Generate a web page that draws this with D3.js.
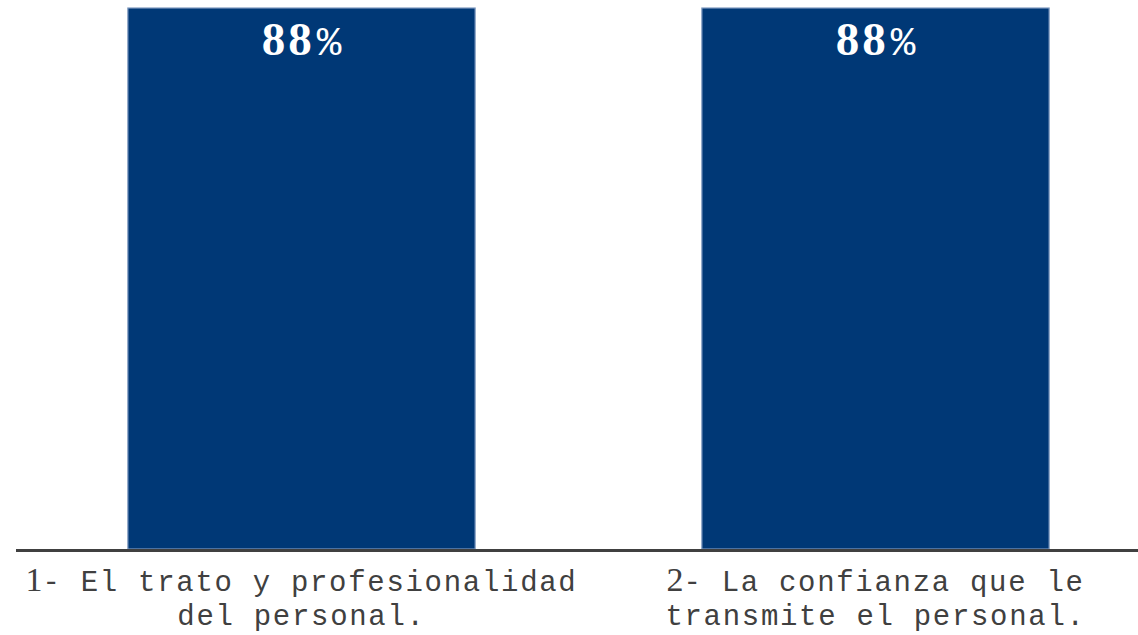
<!DOCTYPE html>
<html>
<head>
<meta charset="utf-8">
<script src="https://cdn.jsdelivr.net/npm/d3@7"></script>
<style>
  html, body { margin: 0; padding: 0; background: #ffffff; }
  svg { display: block; }
</style>
</head>
<body>
<svg id="chart" width="1138" height="635"></svg>
<script>
// Survey items: number, first line and second line of each category label
const itemNumbers = ["1", "2"];
const labelLine1 = ["- El trato y profesionalidad", "- La confianza que le"];
const labelLine2 = ["del personal.", "transmite el personal."];
const values = [88, 88];

const width = 1138, height = 635;
const svg = d3.select("#chart");

const monoFont = "'Courier New', Courier, 'Nimbus Mono PS', FreeMono, 'Liberation Mono', monospace";
const serifFont = "'Times New Roman', 'Liberation Serif', serif";

const baseline = 549;
const x = d3.scaleBand()
  .domain(itemNumbers)
  .range([14.5, 1162.5])
  .paddingInner(0.395)
  .paddingOuter(0.1975);

const y = d3.scaleLinear()
  .domain([0, 88])
  .range([baseline, 8]);

// Bars
svg.append("g").selectAll("rect")
  .data(values)
  .join("rect")
  .attr("x", (d, i) => x(itemNumbers[i]))
  .attr("y", d => y(d))
  .attr("width", x.bandwidth())
  .attr("height", d => baseline - y(d))
  .attr("fill", "#003876")
  .attr("stroke", "#7f9ac0")
  .attr("stroke-width", 1.2);

// Value labels inside the top of each bar
const vl = svg.append("g").selectAll("text")
  .data(values)
  .join("text")
  .attr("x", (d, i) => x(itemNumbers[i]) + x.bandwidth() / 2)
  .attr("y", d => y(d) + 47)
  .attr("text-anchor", "middle")
  .attr("fill", "#ffffff");
vl.append("tspan")
  .attr("font-family", serifFont)
  .attr("font-weight", "bold")
  .attr("font-size", 47)
  .attr("letter-spacing", 3)
  .text(d => d);
vl.append("tspan")
  .attr("dx", 2)
  .attr("font-family", monoFont)
  .attr("font-size", 41)
  .text("%");

// Baseline axis
const axis = svg.append("g").attr("transform", `translate(0,${baseline + 1.5})`);
axis.call(d3.axisBottom(x).tickSize(0).tickFormat(""));
axis.select(".domain")
  .attr("d", `M16,0H${width}`)
  .attr("stroke", "#404040")
  .attr("stroke-width", 3);

// Category labels below the axis
const cl = svg.append("g").selectAll("g")
  .data(itemNumbers)
  .join("g")
  .attr("transform", d => `translate(${x(d) + x.bandwidth() / 2},0)`);

const l1 = cl.append("text")
  .attr("y", 591)
  .attr("text-anchor", "middle")
  .attr("fill", "#404040");
l1.append("tspan")
  .attr("font-family", serifFont)
  .attr("font-size", 34)
  .text(d => d);
l1.append("tspan")
  .attr("font-family", monoFont)
  .attr("font-size", 29)
  .attr("letter-spacing", 1.7)
  .text((d, i) => labelLine1[i]);

cl.append("text")
  .attr("y", 625)
  .attr("text-anchor", "middle")
  .attr("fill", "#404040")
  .attr("font-family", monoFont)
  .attr("font-size", 29)
  .attr("letter-spacing", 1.7)
  .text((d, i) => labelLine2[i]);
</script>
</body>
</html>
